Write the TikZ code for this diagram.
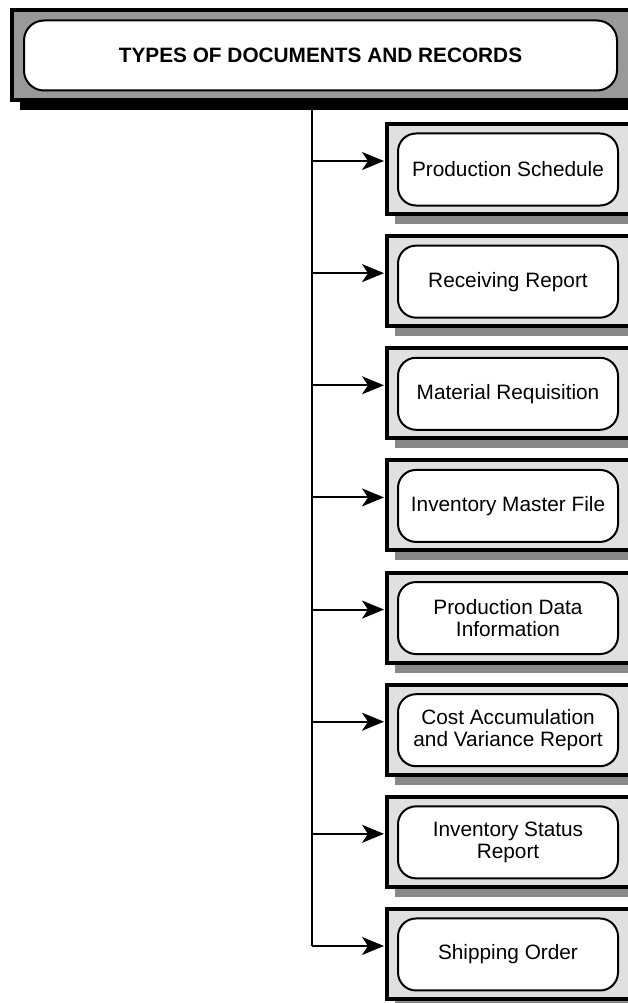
\documentclass[tikz,border=0pt]{standalone}
\usepackage{fontspec}
\setmainfont{Liberation Sans}
\usetikzlibrary{arrows.meta}
\definecolor{headgray}{HTML}{999999}
\definecolor{itemgray}{HTML}{E0E0E0}
\definecolor{shadegray}{HTML}{888888}
\begin{document}
\begin{tikzpicture}[x=1pt,y=-1pt,
  txt/.style={font=\fontsize{20.8}{22}\selectfont},
  headframe/.style={draw=black,line width=4pt,fill=headgray,rectangle,
    minimum width=638pt,minimum height=90pt,inner sep=0pt},
  headbox/.style={draw=black,line width=2pt,fill=white,rounded corners=20pt,
    minimum width=593pt,minimum height=70pt,inner sep=0pt,font=\bfseries\fontsize{20.8}{22}\selectfont},
  itemframe/.style={draw=black,line width=4pt,fill=itemgray,rectangle,
    minimum width=263pt,minimum height=90pt,inner sep=0pt},
  itembox/.style={draw=black,line width=2pt,fill=white,rounded corners=18pt,
    minimum width=220pt,minimum height=72pt,inner sep=0pt,align=center,txt},
  link/.style={line width=2pt,-{Stealth[length=22pt,width=18pt,inset=6pt]}}
]
\useasboundingbox (0,0) rectangle (627,1003);
\fill[white] (0,0) rectangle (627,1003);

% title block with black drop shadow
\fill[black] (20,98) rectangle (650,110);
\node[headframe] (hf) at (331,55) {};
\node[headbox] (title) at (320.5,55.5) {TYPES OF DOCUMENTS AND RECORDS};

% item blocks, one every 112.14pt
\foreach \i/\lbl in {0/{Production Schedule},1/{Receiving Report},2/{Material Requisition},
  3/{Inventory Master File},4/{Production Data\\Information},5/{Cost Accumulation\\and Variance Report},
  6/{Inventory Status\\Report},7/{Shipping Order}}{
  \pgfmathsetmacro{\top}{122+112.14*\i}
  \fill[shadegray] (395,\top+90) rectangle (650,\top+102);
  \node[itemframe] (f\i) at (518.5,\top+47) {};
  \node[itembox] (b\i) at (508,\top+47.5) {\lbl};
  \coordinate (j\i) at (312,\top+39);
  \coordinate (t\i) at (384,\top+39);
}

% trunk and branches
\coordinate (trunk) at (312,102);
\draw[line width=2pt] (trunk) -- (j7);
\foreach \i in {0,...,7}{
  \draw[link] (j\i) -- (t\i);
}
\end{tikzpicture}
\end{document}
